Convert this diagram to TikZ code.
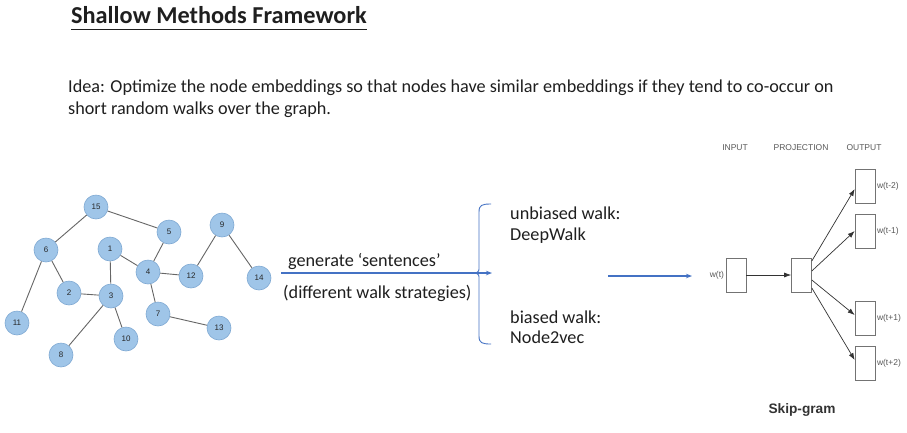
\documentclass[tikz,border=0pt]{standalone}
\usepackage{fontspec}
\setmainfont{Carlito}
\newfontfamily\arialfont{Liberation Sans}
\usetikzlibrary{arrows.meta}
\definecolor{nodeblue}{HTML}{9FC5E8}
\definecolor{nodeline}{HTML}{7FA9D3}
\definecolor{walkblue}{HTML}{4472C4}
\definecolor{txt}{HTML}{1F1F1F}
\begin{document}
\begin{tikzpicture}[x=1pt, y=-1pt,
	vertex/.style={circle, fill=nodeblue, draw=nodeline, line width=0.6pt, minimum size=24pt, inner sep=0pt, font=\arialfont\fontsize{8}{9}\selectfont, text=black!85},
	edge/.style={draw=black!60, line width=0.9pt},
	word/.style={draw=black!55, line width=0.6pt, minimum width=20pt, minimum height=34pt, inner sep=0pt},
	small label/.style={font=\arialfont\fontsize{8.5}{9}\selectfont, text=black!65},
	walk/.style={walkblue, line width=1.2pt, -{Stealth[length=6pt,width=4.5pt]}},
	skip arrow/.style={black!80, line width=0.7pt, -{Latex[length=7pt,width=5pt]}},
	body/.style={font=\fontsize{18.2}{22}\selectfont, text=txt, inner sep=0pt, anchor=base west}]
	\useasboundingbox[fill=white] (0,0) rectangle (907,432);
	% title and idea
	\node[font=\bfseries\fontsize{24.3}{28}\selectfont, text=txt, inner sep=0pt, anchor=base west] (title) at (71,23) {Shallow Methods Framework};
	\draw[txt, line width=1.1pt] ([yshift=-6.3pt]title.base west) -- ([yshift=-6.3pt]title.base east);
	\node[body] (idea1) at (68,92) {Idea: Optimize the node embeddings so that nodes have similar embeddings if they tend to co-occur on};
	\node[body] (idea2) at (68,114) {short random walks over the graph.};
	% graph
	\foreach \n/\x/\y in {1/110/249, 2/69/293, 3/111/296, 4/148/272, 5/169/232, 6/46/250, 7/158/314, 8/61/355, 9/222/225, 10/126/339, 11/17/323, 12/191/276, 13/219/328, 14/259/278, 15/96/207}{
		\node[vertex] (v\n) at (\x,\y) {\n};
	}
	\foreach \a/\b in {15/6, 15/5, 5/4, 1/4, 1/3, 4/12, 4/7, 12/9, 9/14, 6/2, 6/11, 2/3, 3/10, 3/8, 7/13}{
		\draw[edge] (v\a) -- (v\b);
	}
	% walks
	\coordinate (gen start) at (281,273);
	\coordinate (gen end) at (492,273);
	\draw[walk] (gen start) -- (gen end);
	\node[body] (gen) at (288,266) {generate `sentences'};
	\node[body] (strat) at (283,298) {(different walk strategies)};
	\draw[walkblue, line width=0.9pt] (491,204) .. controls (482,204) and (479,205) .. (479,212) -- (479,267) .. controls (479,271) .. (476,273) .. controls (479,275) .. (479,279) -- (479,336) .. controls (479,343) and (482,344) .. (491,344);
	\node[body] (unb) at (510,219) {unbiased walk:};
	\node[body] (deep) at (510,240) {DeepWalk};
	\node[body] (bia) at (510,323) {biased walk:};
	\node[body] (n2v) at (510,343) {Node2vec};
	\coordinate (skip start) at (608,276);
	\coordinate (skip end) at (692,276);
	\draw[walk] (skip start) -- (skip end);
	% skip-gram
	\node[small label] (inp lab) at (735,148) {INPUT};
	\node[small label] (proj lab) at (801,148) {PROJECTION};
	\node[small label] (out lab) at (864,148) {OUTPUT};
	\node[word] (inp) at (736,275) {};
	\node[small label, anchor=east, inner sep=1.5pt] (wt) at (inp.west) {w(t)};
	\node[word] (proj) at (801.5,275) {};
	\draw[skip arrow] (inp) -- (proj);
	\foreach \i/\y/\t in {1/186/t-2, 2/231/t-1, 3/318/t+1, 4/363/t+2}{
		\node[word] (out\i) at (865,\y) {};
		\node[small label, anchor=west, inner sep=1.5pt] (lab\i) at (out\i.east) {w(\t)};
	}
	\foreach \i/\s/\e in {1/14/-3, 2/4/0, 3/-5/3, 4/-13/3}{
		\draw[skip arrow] ([yshift=\s pt]proj.east) -- ([yshift=\e pt]out\i.west);
	}
	\node[font=\arialfont\bfseries\fontsize{13.7}{15}\selectfont, text=black!80] (skip) at (802,410) {Skip-gram};
\end{tikzpicture}
\end{document}
